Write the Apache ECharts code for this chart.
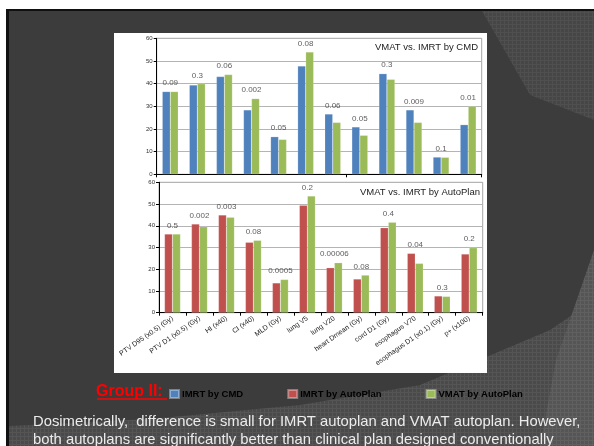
<!DOCTYPE html>
<html>
<head>
<meta charset="utf-8">
<script src="https://cdn.jsdelivr.net/npm/echarts@6/dist/echarts.min.js"></script>
<style>
  html, body { margin: 0; padding: 0; background: #ffffff; }
  #chart { width: 594px; height: 446px; }
</style>
</head>
<body>
<div id="chart"></div>
<script>
// Dosimetric endpoints (shared by both panels)
const categories = [
  'PTV D95 (x0.5) (Gy)', 'PTV D1 (x0.5) (Gy)', 'HI (x40)', 'CI (x40)', 'MLD (Gy)',
  'lung V5', 'lung V20', 'heart Dmean (Gy)', 'cord D1 (Gy)', 'esophagus V70',
  'esophagus D1 (x0.1) (Gy)', 'p+ (x100)'
];

// Upper panel: clinical IMRT (CMD) vs. VMAT AutoPlan
const imrtCmd      = [36.5, 39.4, 43.1, 28.4, 16.6, 47.8, 26.6, 20.9, 44.4, 28.4, 7.6, 21.9];
const vmatAutoTop  = [36.5, 39.9, 44.0, 33.4, 15.4, 54.0, 22.9, 17.2, 41.9, 22.9, 7.5, 30.0];
const pValuesTop   = ['0.09', '0.3', '0.06', '0.002', '0.05', '0.08', '0.06', '0.05', '0.3', '0.009', '0.1', '0.01'];

// Lower panel: IMRT AutoPlan vs. VMAT AutoPlan
const imrtAuto     = [36.2, 40.8, 45.0, 32.4, 13.7, 49.4, 20.7, 15.5, 39.1, 27.3, 7.7, 27.0];
const vmatAutoBot  = [36.2, 39.6, 43.9, 33.3, 15.3, 53.7, 23.0, 17.3, 41.6, 22.7, 7.5, 29.9];
const pValuesBot   = ['0.5', '0.002', '0.003', '0.08', '0.0005', '0.2', '0.00006', '0.08', '0.4', '0.04', '0.3', '0.2'];

const yTicks = { min: 0, max: 60, interval: 10 };

const titles = ['VMAT vs. IMRT by CMD', 'VMAT vs. IMRT by AutoPlan'];
const legendNames = ['IMRT by CMD', 'IMRT by AutoPlan', 'VMAT by AutoPlan'];
const groupLabel = 'Group II:';
const captionLines = [
  'Dosimetrically,  difference is small for IMRT autoplan and VMAT autoplan. However,',
  'both autoplans are significantly better than clinical plan designed conventionally'
];

const COLORS = { blue: '#4f81bd', red: '#c0504d', green: '#9bbb59' };
const FONT = '"Liberation Sans", Arial, sans-serif';

function pairMax(a, b) { return a.map((v, i) => Math.max(v, b[i])); }

// fine grid texture used on the lighter parts of the slide backdrop
function gridTexture(base, line) {
  const c = document.createElement('canvas');
  c.width = 4; c.height = 4;
  const g = c.getContext('2d');
  g.fillStyle = base; g.fillRect(0, 0, 4, 4);
  g.fillStyle = line; g.fillRect(0, 0, 4, 1); g.fillRect(0, 0, 1, 4);
  return { image: c, repeat: 'repeat' };
}

function yAxis(gridIndex) {
  return {
    type: 'value', gridIndex,
    min: yTicks.min, max: yTicks.max, interval: yTicks.interval,
    axisLine: { show: true, lineStyle: { color: '#000', width: 1 } },
    axisTick: { show: true, length: 3, lineStyle: { color: '#000' } },
    axisLabel: { fontSize: 6, color: '#333', margin: 4, fontFamily: FONT },
    splitLine: { lineStyle: { color: '#b4b4b4', width: 1 } }
  };
}

function xAxis(gridIndex, showLabels) {
  return {
    type: 'category', gridIndex, data: categories,
    axisLine: { lineStyle: { color: '#000', width: 1 } },
    axisTick: { show: true, length: 3, lineStyle: { color: '#000' } },
    axisLabel: showLabels
      ? { interval: 0, rotate: 35, fontSize: 7, color: '#222', margin: 5, fontFamily: FONT }
      : { show: false }
  };
}

function barSeries(name, data, color, axisIndex) {
  return {
    name, type: 'bar', data, xAxisIndex: axisIndex, yAxisIndex: axisIndex,
    barWidth: 8, barGap: '0%',
    itemStyle: { color, borderColor: 'rgba(255,255,255,0.35)', borderWidth: 0.5 },
    silent: true
  };
}

function pSeries(tops, labels, axisIndex) {
  return {
    type: 'scatter', data: tops, xAxisIndex: axisIndex, yAxisIndex: axisIndex,
    symbolSize: 1, itemStyle: { color: 'rgba(0,0,0,0)' }, silent: true,
    label: {
      show: true, position: 'top', distance: 4,
      fontSize: 8, color: '#333', fontFamily: FONT,
      formatter: p => labels[p.dataIndex]
    }
  };
}

const chart = echarts.init(document.getElementById('chart'), null, { renderer: 'canvas' });

chart.setOption({
  animation: false,
  backgroundColor: '#ffffff',
  textStyle: { fontFamily: FONT },
  grid: [
    { left: 156.7, right: 112.3, top: 38.3, height: 136, show: true,
      borderColor: '#a6a6a6', borderWidth: 1, backgroundColor: 'transparent' },
    { left: 159, right: 111.3, top: 182.3, height: 130.4, show: true,
      borderColor: '#a6a6a6', borderWidth: 1, backgroundColor: 'transparent' }
  ],
  xAxis: [xAxis(0, false), xAxis(1, true)],
  yAxis: [yAxis(0), yAxis(1)],
  legend: {
    data: legendNames, left: 164, top: 384,
    icon: 'rect', itemWidth: 9, itemHeight: 8, itemGap: 44,
    textStyle: { color: '#000', fontWeight: 'bold', fontSize: 9.5, fontFamily: FONT, padding: [0, 0, 0, -2] }
  },
  graphic: [
    // slide backdrop
    { type: 'rect', z: -10, shape: { x: 6, y: 9, width: 588, height: 437 }, style: { fill: '#111' } },
    { type: 'rect', z: -10, shape: { x: 9, y: 11, width: 585, height: 435 }, style: { fill: '#3c3c3c' } },
    { type: 'polygon', z: -9, shape: { points: [[482, 11], [594, 11], [594, 120], [530, 95]] },
      style: { fill: gridTexture('#464646', '#4f4f4f') } },
    { type: 'polygon', z: -9, shape: { points: [[9, 426], [150, 419], [300, 405], [420, 385], [550, 330], [594, 300], [594, 446], [9, 446]] },
      style: { fill: gridTexture('#4a4a4a', '#555555') } },
    { type: 'polygon', z: -9, shape: { points: [[540, 446], [556, 360], [594, 250], [594, 446]] },
      style: { fill: gridTexture('#555555', '#606060') } },
    // white panel holding both charts
    { type: 'rect', z: -8, shape: { x: 114, y: 33, width: 373, height: 340 }, style: { fill: '#ffffff' } },
    // panel titles
    { type: 'text', z: 10, right: 594 - 478, top: 42, style: { text: titles[0], fill: '#222', font: '9.5px ' + FONT } },
    { type: 'text', z: 10, right: 594 - 480, top: 187, style: { text: titles[1], fill: '#222', font: '9.5px ' + FONT } },
    // group heading with underline
    { type: 'text', z: 10, left: 96, top: 384, style: { text: groupLabel, fill: '#ff0000', font: 'bold 16px ' + FONT } },
    { type: 'line', z: 10, shape: { x1: 97, y1: 399, x2: 167, y2: 399 }, style: { stroke: '#ff0000', lineWidth: 1.5 } },
    // caption
    { type: 'text', z: 10, left: 33, top: 414, style: { text: captionLines[0], fill: '#ececec', font: '14.8px ' + FONT } },
    { type: 'text', z: 10, left: 33, top: 432, style: { text: captionLines[1], fill: '#ececec', font: '14.8px ' + FONT } }
  ],
  series: [
    barSeries('IMRT by CMD', imrtCmd, COLORS.blue, 0),
    barSeries('VMAT by AutoPlan', vmatAutoTop, COLORS.green, 0),
    pSeries(pairMax(imrtCmd, vmatAutoTop), pValuesTop, 0),
    barSeries('IMRT by AutoPlan', imrtAuto, COLORS.red, 1),
    barSeries('VMAT by AutoPlan', vmatAutoBot, COLORS.green, 1),
    pSeries(pairMax(imrtAuto, vmatAutoBot), pValuesBot, 1)
  ]
});
</script>
</body>
</html>
